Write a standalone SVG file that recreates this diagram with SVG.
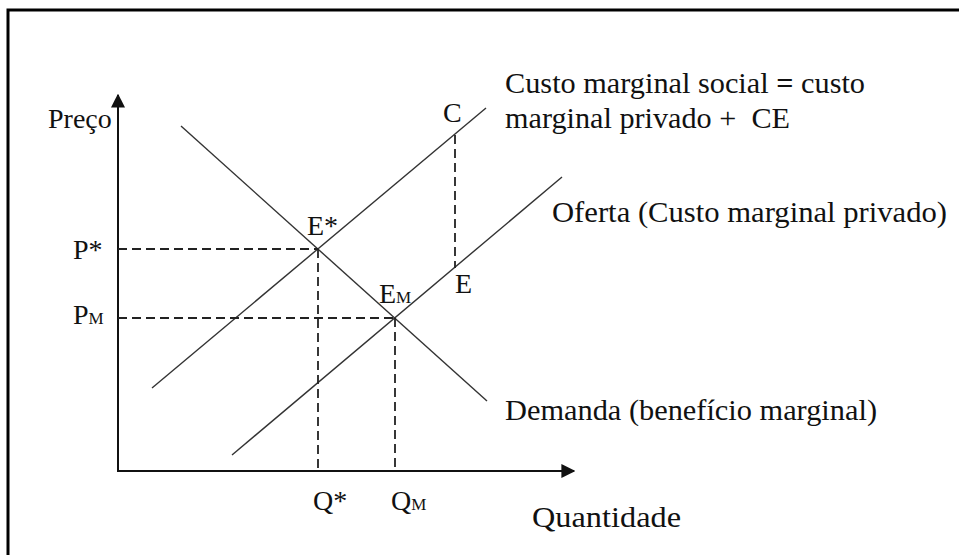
<svg xmlns="http://www.w3.org/2000/svg" width="959" height="555" viewBox="0 0 959 555">
<style>
.t{font-family:"Liberation Serif","Times New Roman",serif;font-size:28px;fill:#111}
.big{font-size:30px}
.sub{font-size:17px}
.axis{stroke:#111;stroke-width:2;fill:none}
.curve{stroke:#333;stroke-width:1.4;fill:none}
.dash{stroke:#222;stroke-width:1.8;stroke-dasharray:9 5;fill:none}
</style>
<defs>
<marker id="arr" viewBox="0 0 10 10" refX="9" refY="5" markerWidth="7" markerHeight="7" markerUnits="strokeWidth" orient="auto">
<path d="M0,0 L10,5 L0,10 z" fill="#111"/>
</marker>
</defs>
<rect x="8" y="10" width="970" height="570" fill="#fff" stroke="#000" stroke-width="3"/>
<g id="connectors">
<line class="axis" x1="118" y1="471" x2="118" y2="95" marker-end="url(#arr)"/>
<line class="axis" x1="117" y1="471" x2="574" y2="471" marker-end="url(#arr)"/>
<line id="demanda" class="curve" x1="181" y1="126" x2="487" y2="401"/>
<line id="cms" class="curve" x1="152" y1="388" x2="486" y2="108"/>
<line id="oferta" class="curve" x1="232" y1="455" x2="562" y2="177"/>
<line class="dash" x1="118" y1="249" x2="318" y2="249"/>
<line class="dash" x1="318" y1="249" x2="318" y2="471"/>
<line class="dash" x1="118" y1="318" x2="395" y2="318"/>
<line class="dash" x1="395" y1="318" x2="395" y2="471"/>
<line class="dash" x1="455" y1="135" x2="455" y2="268"/>
</g>
<g id="labels">
<text class="t" x="48" y="128">Preço</text>
<text class="t" x="443" y="122">C</text>
<text class="t big" x="505" y="93" textLength="360" lengthAdjust="spacingAndGlyphs">Custo marginal social <tspan font-weight="bold">=</tspan> custo</text>
<text class="t big" x="505" y="128" textLength="285" lengthAdjust="spacingAndGlyphs" xml:space="preserve">marginal privado +  CE</text>
<text class="t big" x="552" y="222" textLength="395" lengthAdjust="spacingAndGlyphs">Oferta (Custo marginal privado)</text>
<text class="t" x="307" y="235">E*</text>
<text class="t" x="73" y="259">P*</text>
<text class="t" x="455" y="293">E</text>
<text class="t" x="379" y="303">E<tspan class="sub">M</tspan></text>
<text class="t" x="73" y="324">P<tspan class="sub">M</tspan></text>
<text class="t big" x="505" y="420" textLength="372" lengthAdjust="spacingAndGlyphs">Demanda (benefício marginal)</text>
<text class="t" x="313" y="510">Q*</text>
<text class="t" x="391" y="510">Q<tspan class="sub">M</tspan></text>
<text class="t big" x="532" y="527" textLength="149" lengthAdjust="spacingAndGlyphs">Quantidade</text>
</g>
</svg>
